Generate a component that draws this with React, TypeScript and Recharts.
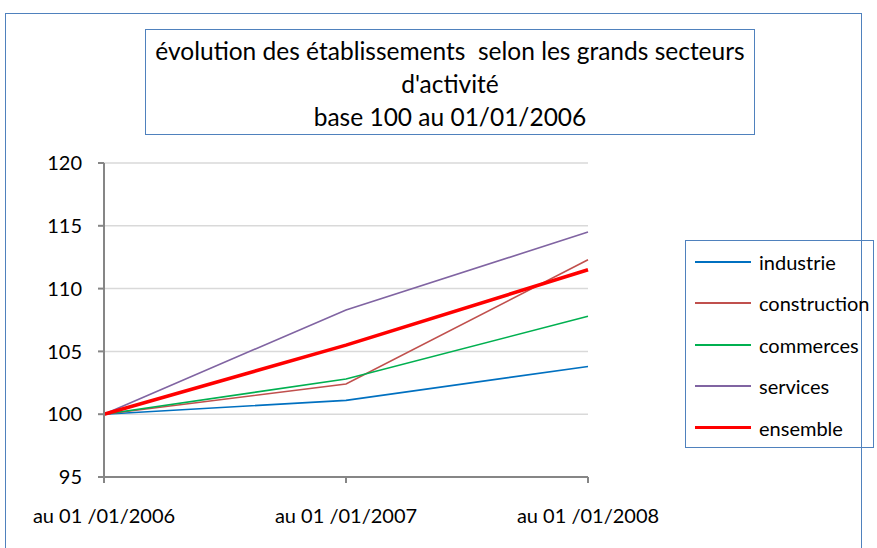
import { LineChart, Line, XAxis, YAxis, CartesianGrid } from "recharts";

const periods = ["au 01 /01/2006", "au 01 /01/2007", "au 01 /01/2008"];
const industrie = [100, 101.1, 103.8];
const construction = [100, 102.4, 112.3];
const commerces = [100, 102.8, 107.8];
const services = [100, 108.3, 114.5];
const ensemble = [100, 105.5, 111.5];
const yTicks = [95, 100, 105, 110, 115, 120];

const series = [
  { key: "industrie", color: "#0070c0", width: 1.6 },
  { key: "construction", color: "#c0504d", width: 1.6 },
  { key: "commerces", color: "#00b050", width: 1.6 },
  { key: "services", color: "#8064a2", width: 1.6 },
  { key: "ensemble", color: "#ff0000", width: 3.5 },
];

const data = periods.map((p, i) => ({
  period: p,
  industrie: industrie[i],
  construction: construction[i],
  commerces: commerces[i],
  services: services[i],
  ensemble: ensemble[i],
}));

const FONT = "Lato, 'Open Sans', sans-serif";

const LegendBox = () => (
  <div
    style={{
      position: "absolute",
      left: 685,
      top: 241,
      border: "1.5px solid #4f81bd",
      width: 189,
      height: 208,
      boxSizing: "border-box",
      paddingTop: 0,
      marginTop: -1,
      fontFamily: FONT,
      fontSize: 20,
      color: "#000",
    }}
  >
    {series.map((s) => (
      <div key={s.key} style={{ display: "flex", alignItems: "center", height: 41.5 }}>
        <div
          style={{
            width: 56,
            height: s.key === "ensemble" ? 3 : 2,
            background: s.color,
            marginLeft: 9,
            marginRight: 8,
          }}
        />
        <span>{s.key}</span>
      </div>
    ))}
  </div>
);

export default function App() {
  return (
    <div style={{ position: "absolute", left: 0, top: 0, width: 877, height: 548, background: "#fff", overflow: "hidden" }}>
      <div
        style={{
          position: "absolute",
          left: 5,
          top: 13,
          width: 857,
          height: 560,
          border: "1.5px solid #4f81bd",
          boxSizing: "border-box",
        }}
      />
      <div
        style={{
          position: "absolute",
          left: 145,
          top: 29,
          width: 610,
          height: 106,
          border: "1.5px solid #4f81bd",
          boxSizing: "border-box",
          fontFamily: FONT,
          fontSize: 24.5,
          lineHeight: "33px",
          textAlign: "center",
          paddingTop: 4,
          color: "#000",
          whiteSpace: "nowrap",
        }}
      >
        évolution des établissements&nbsp; selon les grands secteurs
        <br />
        d'activité
        <br />
        base 100 au 01/01/2006
      </div>
      <div style={{ position: "absolute", left: 0, top: 0 }}>
        <LineChart width={877} height={548} data={data} margin={{ top: 163, right: 289, bottom: 11, left: 44 }}>
          <CartesianGrid vertical={false} stroke="#d9d9d9" strokeWidth={1.5} />
          <XAxis
            dataKey="period"
            height={60}
            stroke="#868686"
            strokeWidth={2}
            tickSize={6}
            tickMargin={26}
            tick={{ fill: "#000", fontSize: 20, fontFamily: FONT }}
            interval={0}
          />
          <YAxis
            width={60}
            domain={[95, 120]}
            ticks={yTicks}
            stroke="#868686"
            strokeWidth={2}
            tickSize={6}
            tickMargin={16}
            tick={{ fill: "#000", fontSize: 20, fontFamily: FONT }}
            interval={0}
          />
          {series.map((s) => (
            <Line
              key={s.key}
              dataKey={s.key}
              stroke={s.color}
              strokeWidth={s.width}
              dot={false}
              activeDot={false}
              isAnimationActive={false}
              type="linear"
            />
          ))}
        </LineChart>
      </div>
      <LegendBox />
    </div>
  );
}
